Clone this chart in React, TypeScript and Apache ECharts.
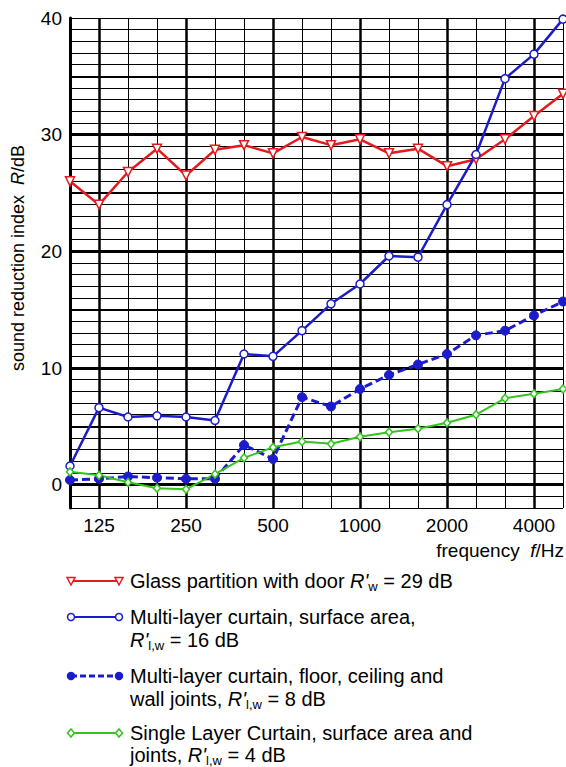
import React, { useEffect, useRef } from "react";
import * as echarts from "echarts";

const freqs = ["100","125","160","200","250","315","400","500","630","800","1000","1250","1600","2000","2500","3150","4000","5000"];
const labeledFreqs = ["125","250","500","1000","2000","4000"];
const glass = [26.0,24.0,26.8,28.8,26.5,28.7,29.1,28.4,29.8,29.1,29.6,28.4,28.8,27.3,27.9,29.6,31.6,33.5];
const multiSurface = [1.6,6.6,5.8,5.9,5.8,5.5,11.2,11.0,13.2,15.5,17.2,19.6,19.5,24.0,28.3,34.8,36.9,39.9];
const multiJoints = [0.4,0.5,0.7,0.6,0.5,0.5,3.4,2.2,7.5,6.7,8.2,9.4,10.3,11.2,12.8,13.2,14.5,15.7];
const single = [1.1,0.8,0.2,-0.3,-0.4,0.9,2.3,3.2,3.7,3.5,4.1,4.5,4.8,5.3,6.0,7.4,7.8,8.2];
const fiveLines = [5,15,25,35];
const tenLines = [0,10,20,30];
const yMin = -2;
const yMax = 40;

const RED = "#e41a1c";
const BLUE = "#1c1ccc";
const GREEN = "#33c41e";
const FONT = "Liberation Sans, Arial, sans-serif";
const LFS = 20;

export default function App() {
  const ref = useRef<HTMLDivElement>(null);
  useEffect(() => {
    const chart = echarts.init(ref.current!, null, { renderer: "svg" });
    const rich = {
      i: { fontStyle: "italic", fontSize: LFS, fontFamily: FONT, color: "#000", lineHeight: 24 },
      sub: { fontSize: 13, fontFamily: FONT, color: "#000", verticalAlign: "bottom", lineHeight: 10 },
    };
    const txt = (x: number, y: number, text: string, extra: any = {}) => ({
      type: "text",
      x,
      y,
      style: {
        text,
        fontSize: LFS,
        fontFamily: FONT,
        fill: "#000",
        verticalAlign: "middle",
        lineHeight: 24,
        rich,
        ...extra,
      },
    });
    const lx0 = 71, lx1 = 119;
    const tri = (cx: number, cy: number) => ({
      type: "polygon",
      shape: { points: [[cx - 4, cy - 3.5], [cx + 4, cy - 3.5], [cx, cy + 4]] },
      style: { fill: "#fff", stroke: RED, lineWidth: 1.5 },
    });
    const circ = (cx: number, cy: number, fill: string) => ({
      type: "circle",
      shape: { cx, cy, r: 3.5 },
      style: { fill, stroke: BLUE, lineWidth: 1.5 },
    });
    const dia = (cx: number, cy: number) => ({
      type: "polygon",
      shape: { points: [[cx, cy - 4], [cx + 3.5, cy], [cx, cy + 4], [cx - 3.5, cy]] },
      style: { fill: "#fff", stroke: GREEN, lineWidth: 1.5 },
    });
    const lline = (y: number, color: string, width: number, dash?: number[]) => ({
      type: "line",
      shape: { x1: lx0, y1: y, x2: lx1, y2: y },
      style: { stroke: color, lineWidth: width, lineDash: dash },
    });
    const r1 = 581, r2 = 617, r3 = 676, r4 = 733;
    const tx = 130;

    const markData: any[] = [];
    fiveLines.forEach((v) => markData.push({ yAxis: v, lineStyle: { color: "#000", width: 2, type: "solid" } }));
    tenLines.forEach((v) => markData.push({ yAxis: v, lineStyle: { color: "#000", width: 3, type: "solid" } }));
    labeledFreqs.forEach((f) => markData.push({ xAxis: f, lineStyle: { color: "#000", width: 2.5, type: "solid" } }));

    const dataSeries = (name: string, data: number[], color: string, symbol: string, extra: any) => ({
      name,
      type: "line",
      data,
      z: 10,
      symbol,
      showSymbol: true,
      lineStyle: { color, width: 2.5 },
      itemStyle: { color: "#fff", borderColor: color, borderWidth: 1.5 },
      ...extra,
    });

    chart.setOption({
      animation: false,
      grid: { left: 70, top: 18, right: 1, bottom: 259, containLabel: false },
      xAxis: {
        type: "category",
        data: freqs,
        boundaryGap: false,
        axisLine: { show: true, lineStyle: { color: "#000", width: 2 } },
        axisTick: { show: false },
        axisLabel: {
          interval: 0,
          margin: 8,
          fontSize: 19,
          fontFamily: FONT,
          color: "#000",
          formatter: (v: string) => (labeledFreqs.indexOf(v) >= 0 ? v : ""),
        },
        splitLine: { show: true, interval: 0, lineStyle: { color: "#000", width: 1 } },
      },
      yAxis: {
        type: "value",
        min: yMin,
        max: yMax,
        interval: 1,
        axisLine: { show: true, lineStyle: { color: "#000", width: 3 } },
        axisTick: { show: false },
        axisLabel: {
          margin: 8,
          fontSize: 19,
          fontFamily: FONT,
          color: "#000",
          formatter: (v: number) => (v % 10 === 0 && v >= 0 ? String(v) : ""),
        },
        splitLine: { show: true, lineStyle: { color: "#000", width: 1 } },
      },
      series: [
        {
          type: "line",
          data: [],
          silent: true,
          z: 1,
          markLine: {
            silent: true,
            symbol: "none",
            z: 1,
            label: { show: false },
            emphasis: { disabled: true },
            data: markData,
          },
        },
        dataSeries("Glass partition with door", glass, RED, "triangle", {
          symbolSize: 9,
          symbolRotate: 180,
        }),
        dataSeries("Multi-layer curtain, surface area", multiSurface, BLUE, "circle", {
          symbolSize: 8,
        }),
        dataSeries("Multi-layer curtain, floor, ceiling and wall joints", multiJoints, BLUE, "circle", {
          symbolSize: 9,
          lineStyle: { color: BLUE, width: 3, type: [8, 4] },
          itemStyle: { color: BLUE, borderColor: BLUE, borderWidth: 1 },
        }),
        dataSeries("Single Layer Curtain, surface area and joints", single, GREEN, "diamond", {
          symbolSize: [7, 8],
          lineStyle: { color: GREEN, width: 2 },
        }),
      ],
      graphic: [
        {
          type: "text",
          x: 18,
          y: 258,
          rotation: Math.PI / 2,
          style: {
            text: "sound reduction index  {i|R}/dB",
            fontSize: 18,
            fontFamily: FONT,
            fill: "#000",
            align: "center",
            verticalAlign: "middle",
            rich: { i: { fontStyle: "italic", fontSize: 18, fontFamily: FONT, color: "#000" } },
          },
        },
        {
          type: "text",
          x: 564,
          y: 550,
          style: {
            text: "frequency  {i|f}/Hz",
            fontSize: 19,
            fontFamily: FONT,
            fill: "#000",
            align: "right",
            verticalAlign: "middle",
            rich: { i: { fontStyle: "italic", fontSize: 19, fontFamily: FONT, color: "#000" } },
          },
        },
        lline(r1, RED, 2),
        tri(lx0, r1),
        tri(lx1, r1),
        txt(tx, r1, "Glass partition with door {i|R'}{sub|w} = 29 dB"),
        lline(r2, BLUE, 2),
        circ(lx0, r2, "#fff"),
        circ(lx1, r2, "#fff"),
        txt(tx, r2, "Multi-layer curtain, surface area,"),
        txt(tx, r2 + 23, "{i|R'}{sub|l,w} = 16 dB"),
        lline(r3, BLUE, 3, [6, 3]),
        circ(lx0, r3, BLUE),
        circ(lx1, r3, BLUE),
        txt(tx, r3, "Multi-layer curtain, floor, ceiling and"),
        txt(tx, r3 + 23, "wall joints, {i|R'}{sub|l,w} = 8 dB"),
        lline(r4, GREEN, 2),
        dia(lx0, r4),
        dia(lx1, r4),
        txt(tx, r4, "Single Layer Curtain, surface area and"),
        txt(tx, r4 + 22, "joints, {i|R'}{sub|l,w} = 4 dB"),
      ],
    });
    return () => chart.dispose();
  }, []);
  return (
    <div
      ref={ref}
      style={{ position: "absolute", left: 0, top: 0, width: 566, height: 767, background: "#fff" }}
    />
  );
}
